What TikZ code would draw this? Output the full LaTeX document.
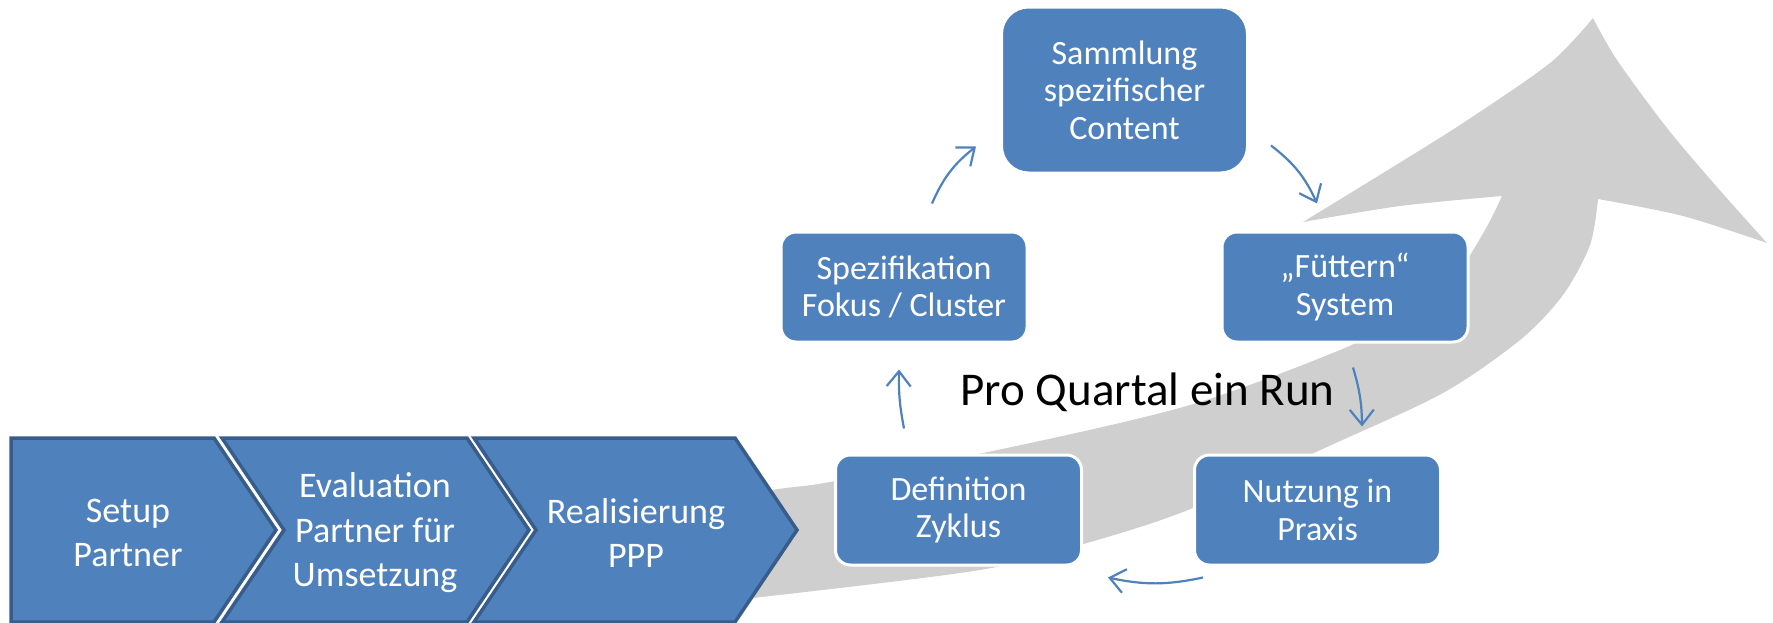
\documentclass[tikz,border=0pt]{standalone}
\usepackage{fontspec}
\setmainfont{Carlito}
\usetikzlibrary{arrows.meta,calc}
\definecolor{boxblue}{HTML}{4F81BD}
\definecolor{chevborder}{HTML}{385D8A}
\definecolor{bandgray}{HTML}{CFCFCF}
\begin{document}
\begin{tikzpicture}[x=1pt,y=-1pt,
 box/.style={fill=boxblue, draw=white, line width=3pt, rounded corners=15pt, minimum width=246pt, minimum height=110pt, text=white, align=center, inner sep=0pt, font=\fontsize{34}{37.5}\selectfont},
 chev/.style={fill=boxblue, draw=chevborder, line width=3.5pt, line join=miter},
 chevtext/.style={text=white, align=center, inner sep=0pt, font=\fontsize{36}{44.5}\selectfont},
 conn/.style={draw=boxblue, line width=2.2pt, -{Straight Barb[length=15pt,width=24pt,line width=2.2pt]}},
 band/.style={fill=bandgray}]
\useasboundingbox (0,0) rectangle (1773,622);
% big gray arrow
\fill[band] plot[smooth, tension=0.5] coordinates {(600,614) (753,598) (980,570) (1087,543) (1188,510) (1327,447) (1443,393) (1520,340) (1563,295) (1590,245) (1598,199)}
 -- plot[smooth, tension=0.5] coordinates {(1598,199) (1683,216) (1767,243)}
 -- plot[smooth, tension=0.5] coordinates {(1767,243) (1717,187) (1667,128) (1617,60) (1593,18)}
 -- plot[smooth, tension=0.5] coordinates {(1593,18) (1550,63) (1463,123) (1383,173) (1303,222)}
 -- plot[smooth, tension=0.5] coordinates {(1303,222) (1400,206) (1502,196)}
 -- plot[smooth, tension=0.5] coordinates {(1502,196) (1485,230) (1455,275) (1400,318) (1340,350) (1190,405) (1007,448) (830,482) (772,490) (600,518)}
 -- cycle;
% chevrons
\draw[chev] (11,438) -- (214,438) -- (276,530) -- (214,622) -- (11,622) -- cycle;
\draw[chev] (222,438) -- (467,438) -- (529,530) -- (467,622) -- (222,622) -- (284,530) -- cycle;
\draw[chev] (474,438) -- (735,438) -- (797,530) -- (735,622) -- (474,622) -- (536,530) -- cycle;
\node[chevtext] (c1) at (128,533) {Setup\\Partner};
\node[chevtext] (c2) at (375,533) {Evaluation\\Partner für\\Umsetzung};
\node[chevtext] (c3) at (636,533) {Realisierung\\PPP};
% cycle boxes
\node[box, minimum height=166pt, rounded corners=27pt] (samm) at (1124.5,90) {Sammlung\\spezifischer\\Content};
\node[box] (spez) at (904,287) {Spezifikation\\Fokus / Cluster};
\node[box] (fuett) at (1345,287) {„Füttern“\\System};
\node[box] (def) at (958.5,510) {Definition\\Zyklus};
\node[box] (nutz) at (1317.5,510) {Nutzung in\\Praxis};
% connectors
\draw[conn] ([xshift=28pt,yshift=27pt]spez.north) to[bend left=14] ([xshift=-24pt,yshift=28pt]samm.south west);
\draw[conn] ([xshift=22pt,yshift=29pt]samm.south east) to[bend left=14] ([xshift=-28pt,yshift=27pt]fuett.north);
\draw[conn] ([xshift=8pt,yshift=-24pt]fuett.south) to[bend left=8] ([xshift=44.5pt,yshift=27pt]nutz.north);
\draw[conn] ([xshift=10pt,yshift=-11pt]nutz.south west) to[bend left=12] ([xshift=25pt,yshift=-11pt]def.south east);
\draw[conn] ([xshift=-54.5pt,yshift=25pt]def.north) to[bend left=6] ([xshift=-5pt,yshift=-26pt]spez.south);
% label
\node[anchor=base, inner sep=0pt, font=\fontsize{47}{56}\selectfont] (run) at (1147.5,405) {Pro Quartal ein Run};
\end{tikzpicture}
\end{document}
